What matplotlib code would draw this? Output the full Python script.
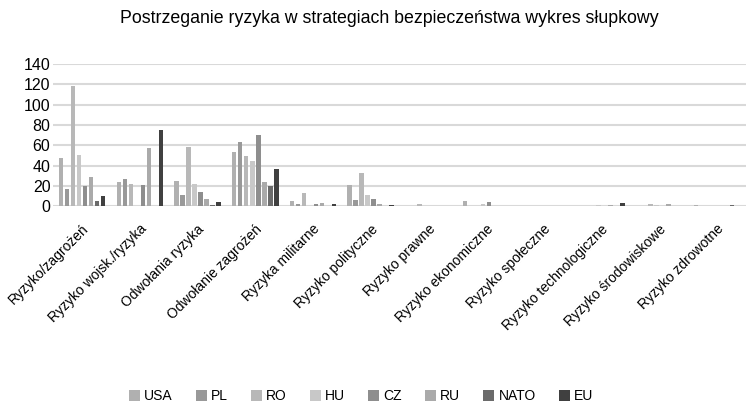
import matplotlib
matplotlib.use('Agg')
import matplotlib.pyplot as plt
import numpy as np

plt.rcParams['font.family'] = ['Liberation Sans', 'DejaVu Sans']

categories = ["Ryzyko/zagrożeń", "Ryzyko wojsk./ryzyka", "Odwołania ryzyka",
              "Odwołanie zagrożeń", "Ryzyka militarne", "Ryzyko polityczne",
              "Ryzyko prawne", "Ryzyko ekonomiczne", "Ryzyko społeczne",
              "Ryzyko technologiczne", "Ryzyko środowiskowe", "Ryzyko zdrowotne"]

usa  = [47, 24, 25, 53, 5, 21, 0.5, 5, 0, 0.5, 0.5, 1]
pl   = [17, 27, 11, 63, 2, 6, 0, 0, 0.5, 0, 0, 0]
ro   = [118, 22, 58, 49, 13, 33, 2.5, 0.5, 0, 0, 2.5, 0]
hu   = [50, 0, 22, 44, 0, 11, 0.5, 2, 0, 1, 1.5, 0.3]
cz   = [20, 21, 14, 70, 2, 7, 0, 4.5, 0.5, 0, 0.5, 0]
ru   = [29, 57, 7, 24, 3, 2, 0, 0.5, 0, 1, 2.5, 0]
nato = [5, 0, 1, 20, 0, 0, 0, 0, 0, 0, 0, 1]
eu   = [10, 75, 4, 37, 2, 1, 0, 0, 0, 3, 0, 0]

series_names = ["USA", "PL", "RO", "HU", "CZ", "RU", "NATO", "EU"]
series = [usa, pl, ro, hu, cz, ru, nato, eu]
colors = ["#b0b0b0", "#999999", "#b8b8b8", "#c8c8c8",
          "#8e8e8e", "#aaaaaa", "#6b6b6b", "#404040"]

fig = plt.figure(figsize=(7.49, 4.05), dpi=100)
ax = fig.add_axes([0.071, 0.491, 0.925, 0.351])

x = np.arange(len(categories))
pitch = 0.104
bw = 0.078
for i, (name, vals, c) in enumerate(zip(series_names, series, colors)):
    ax.bar(x + (i - 3.5) * pitch, vals, width=bw, color=c, label=name)

ax.set_xlim(-0.5, len(categories) - 0.5)
ax.set_ylim(0, 140)
ax.set_yticks(range(0, 141, 20))
ax.tick_params(axis='y', length=0, labelsize=11.5, pad=2)
ax.tick_params(axis='x', length=0)
ax.grid(True, axis='y', color='#d9d9d9', linewidth=1.5)
ax.set_axisbelow(True)
for s in ax.spines.values():
    s.set_visible(False)

ax.set_xticks(x + 0.08)
ax.set_xticklabels(categories, rotation=45, ha='right', va='center',
                   rotation_mode='anchor', fontsize=10)
ax.tick_params(axis='x', pad=15)

fig.text(0.52, 0.955, "Postrzeganie ryzyka w strategiach bezpieczeństwa wykres słupkowy",
         ha='center', va='center', fontsize=12.8)

fig.legend(loc='center', bbox_to_anchor=(0.482, 0.022), ncol=8, frameon=False,
           fontsize=10, handlelength=0.8, handleheight=0.8, handletextpad=0.3,
           columnspacing=1.65)

plt.savefig('out.png', dpi=100)
plt.close()
